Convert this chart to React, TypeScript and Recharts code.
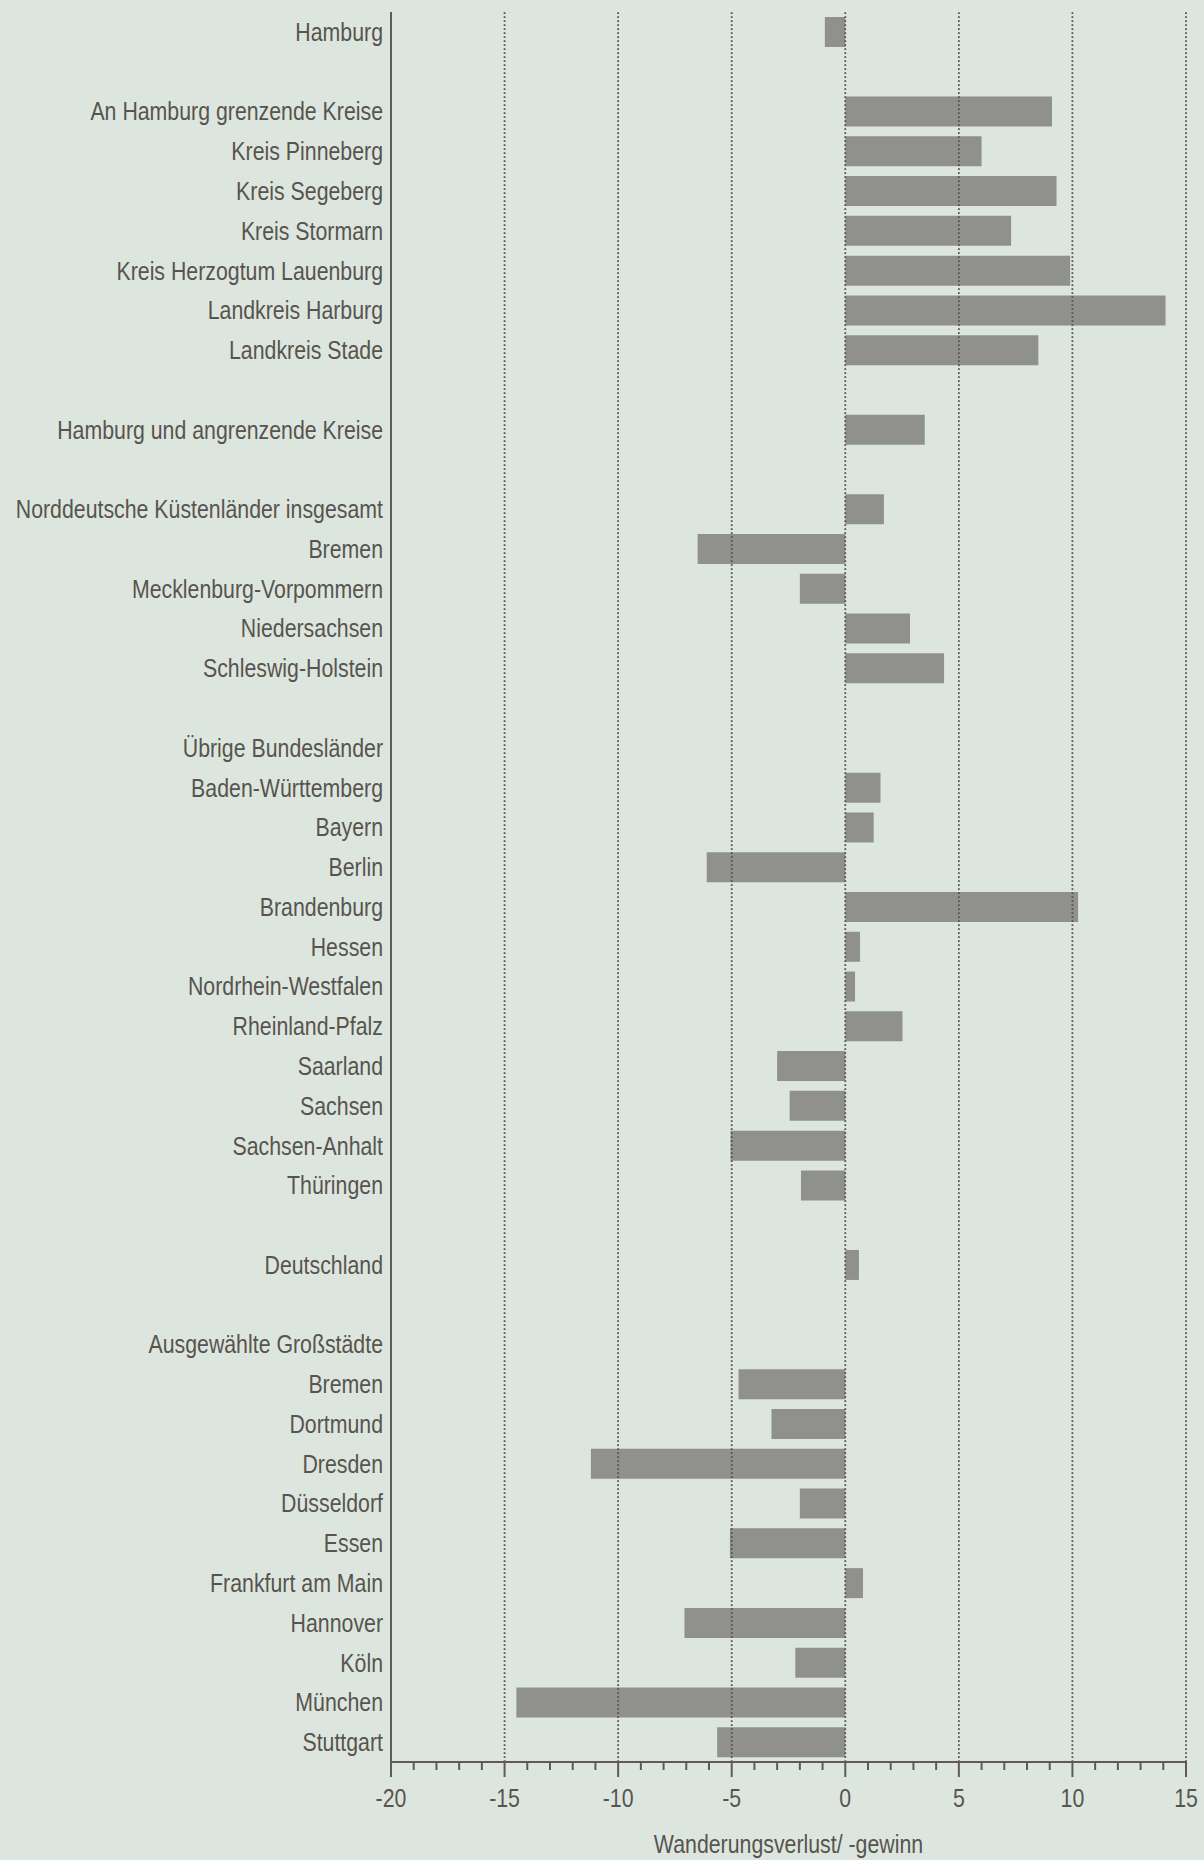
import React from "react";
import { BarChart, Bar, XAxis, YAxis, ReferenceLine } from "recharts";

// rows from top to bottom, "" = empty spacer row
const labels = [
  "Hamburg",
  "",
  "An Hamburg grenzende Kreise",
  "Kreis Pinneberg",
  "Kreis Segeberg",
  "Kreis Stormarn",
  "Kreis Herzogtum Lauenburg",
  "Landkreis Harburg",
  "Landkreis Stade",
  "",
  "Hamburg und angrenzende Kreise",
  "",
  "Norddeutsche Küstenländer insgesamt",
  "Bremen",
  "Mecklenburg-Vorpommern",
  "Niedersachsen",
  "Schleswig-Holstein",
  "",
  "Übrige Bundesländer",
  "Baden-Württemberg",
  "Bayern",
  "Berlin",
  "Brandenburg",
  "Hessen",
  "Nordrhein-Westfalen",
  "Rheinland-Pfalz",
  "Saarland",
  "Sachsen",
  "Sachsen-Anhalt",
  "Thüringen",
  "",
  "Deutschland",
  "",
  "Ausgewählte Großstädte",
  "Bremen",
  "Dortmund",
  "Dresden",
  "Düsseldorf",
  "Essen",
  "Frankfurt am Main",
  "Hannover",
  "Köln",
  "München",
  "Stuttgart",
];

const values: (number | null)[] = [
  -0.9,
  null,
  9.1, 6.0, 9.3, 7.3, 9.9, 14.1, 8.5,
  null,
  3.5,
  null,
  1.7, -6.5, -2.0, 2.85, 4.35,
  null,
  null, 1.55, 1.25, -6.1, 10.25, 0.65, 0.43, 2.52, -3.0, -2.45, -5.05, -1.95,
  null,
  0.6,
  null,
  null, -4.7, -3.25, -11.2, -2.0, -5.08, 0.78, -7.08, -2.2, -14.48, -5.64,
];

const xTicks = [
  -20, -19, -18, -17, -16, -15, -14, -13, -12, -11, -10, -9, -8, -7, -6, -5, -4, -3,
  -2, -1, 0, 1, 2, 3, 4, 5, 6, 7, 8, 9, 10, 11, 12, 13, 14, 15,
];
const gridValues = [-15, -10, -5, 0, 5, 10, 15];

const BG = "#dde6de";
const BAR = "#90918c";
const TEXT = "#57544f";
const AXIS = "#5f5a55";
const FONT = "'Liberation Sans', Arial, sans-serif";
const SQUEEZE = 0.82; // no narrow font installed, so squeeze the text horizontally

const data = labels.map((label, i) => ({ id: `r${i}`, label, value: values[i] }));

const NarrowText = ({ x, y, anchor, children }: any) => (
  <text
    transform={`translate(${x},${y}) scale(${SQUEEZE},1)`}
    textAnchor={anchor}
    fontSize={26}
    fill={TEXT}
    fontFamily={FONT}
  >
    {children}
  </text>
);

const XTick = ({ x, y, payload }: any) => {
  const major = payload.value % 5 === 0;
  return (
    <g>
      <line x1={x} x2={x} y1={y} y2={y + (major ? 15 : 8)} stroke={AXIS} strokeWidth={2} />
      {major && (
        <NarrowText x={x} y={y + 45} anchor="middle">
          {payload.value}
        </NarrowText>
      )}
    </g>
  );
};

const YTick = ({ x, y, payload }: any) => {
  const row = data.find((d) => d.id === payload.value);
  return (
    <NarrowText x={x} y={y + 9} anchor="end">
      {row ? row.label : ""}
    </NarrowText>
  );
};

const AxisTitle = ({ viewBox }: any) => (
  <NarrowText x={viewBox.x + viewBox.width / 2} y={1853} anchor="middle">
    Wanderungsverlust/ -gewinn
  </NarrowText>
);

export default function App() {
  return (
    <div style={{ position: "absolute", left: 0, top: 0, width: 1204, height: 1860, background: BG }}>
      <style>{`body{margin:0}`}</style>
      <BarChart
        width={1204}
        height={1860}
        data={data}
        layout="vertical"
        margin={{ top: 12, right: 18, bottom: 0, left: 0 }}
        barSize={30}
      >
        <XAxis
          type="number"
          domain={[-20, 15]}
          ticks={xTicks}
          interval={0}
          height={98}
          tickSize={0}
          tickMargin={0}
          tickLine={false}
          tick={<XTick />}
          axisLine={{ stroke: AXIS, strokeWidth: 2 }}
          label={<AxisTitle />}
        />
        <YAxis
          type="category"
          dataKey="id"
          width={391}
          interval={0}
          tickSize={0}
          tickMargin={8}
          tickLine={false}
          tick={<YTick />}
          axisLine={{ stroke: AXIS, strokeWidth: 2 }}
        />
        {gridValues.map((v) => (
          <ReferenceLine key={v} x={v} stroke="#55524e" strokeWidth={1.8} strokeDasharray="1.8 2.2" />
        ))}
        <Bar dataKey="value" fill={BAR} isAnimationActive={false} />
      </BarChart>
    </div>
  );
}
